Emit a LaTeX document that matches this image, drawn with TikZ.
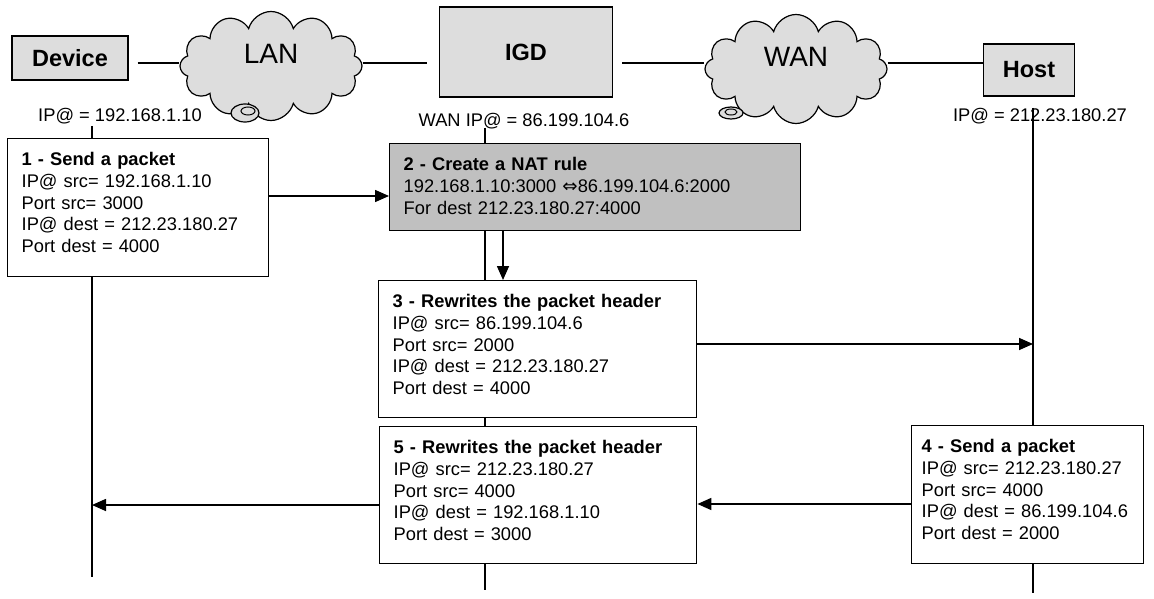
\documentclass[tikz,border=0pt]{standalone}
\usepackage{fontspec}
\setmainfont{Liberation Sans}
\newfontfamily\symfont{DejaVu Sans}
\usetikzlibrary{shapes.symbols,arrows.meta}
\definecolor{unitgray}{RGB}{221,221,221}
\definecolor{rulegray}{RGB}{192,192,192}
\tikzset{
  unit/.style={draw,fill=unitgray,line width=1.2pt,font=\bfseries\fontsize{23.5}{28}\selectfont},
  net/.style={cloud,cloud puffs=12,cloud ignores aspect,draw,fill=unitgray,line width=1.2pt,
    minimum width=182pt,minimum height=109pt,text height=20pt,text depth=24pt,
    font=\fontsize{28}{32}\selectfont},
  addr/.style={anchor=base,inner sep=0pt,font=\fontsize{18.3}{22}\selectfont},
  stepbox/.style={draw,fill=white,line width=1.4pt,anchor=north west,align=left,
    inner xsep=14pt,inner ysep=0pt,text height=27pt,font=\fontsize{18.3}{21.7}\selectfont},
  life/.style={line width=1.4pt},
  msg/.style={line width=1.6pt,-{Triangle[length=14pt,width=12pt]}}
}
\begin{document}
\begin{tikzpicture}[x=1pt,y=-1pt]
  \useasboundingbox (0,0) rectangle (1154,599);
  \coordinate (bus) at (0,63);
  \coordinate (devtop) at (92,126);
  \coordinate (devbot) at (92,577);
  \coordinate (igdtop) at (485,128);
  \coordinate (igdbot) at (485,590);
  \coordinate (hosttop) at (1033,108);
  \coordinate (hostbot) at (1033,593);
  \node[unit,minimum width=116pt,minimum height=44pt] (device) at (70,58) {Device};
  \node[unit,minimum width=173pt,minimum height=90pt] (igd) at (526,52) {IGD};
  \node[unit,minimum width=91pt,minimum height=52pt] (host) at (1029,70) {Host};
  \node[net] (lan) at (271,66) {LAN};
  \node[net] (wan) at (796,69) {WAN};
  \draw[line width=1.2pt,fill=unitgray] (245,113) ellipse (14pt and 9pt);
  \draw[line width=1pt] (248,111) ellipse (7pt and 4pt);
  \draw[line width=1.2pt,fill=unitgray] (731,113) ellipse (12pt and 6pt);
  \draw[line width=1pt] (731,112) ellipse (6pt and 3pt);
  \draw[life] (device.east |- bus) ++(9,0) -- (lan.west |- bus);
  \draw[life] (lan.east |- bus) -- ([xshift=-12pt]igd.west |- bus);
  \draw[life] ([xshift=9pt]igd.east |- bus) -- (wan.west |- bus);
  \draw[life] (wan.east |- bus) -- (host.west |- bus);
  \node[addr] (devip) at (120,122) {IP@ = 192.168.1.10};
  \node[addr] (igdip) at (524,127) {WAN IP@ = 86.199.104.6};
  \node[addr] (hostip) at (1040,122) {IP@ = 212.23.180.27};
  \draw[life] (devtop) -- (devbot);
  \draw[life] (igdtop) -- (igdbot);
  \draw[life] (hosttop) -- (hostbot);
  \node[stepbox,text width=233pt,text depth=111pt] (send1) at (7,138)
    {\textbf{1 - Send a packet}\\IP@ src= 192.168.1.10\\Port src= 3000\\IP@ dest = 212.23.180.27\\Port dest = 4000};
  \node[stepbox,fill=rulegray,text width=383pt,text depth=60pt] (natrule) at (389,143)
    {\textbf{2 - Create a NAT rule}\\192.168.1.10:3000 {\symfont ⇔}86.199.104.6:2000\\For dest 212.23.180.27:4000};
  \node[stepbox,text width=290pt,text depth=110pt] (rewrite3) at (378,280)
    {\textbf{3 - Rewrites the packet header}\\IP@ src= 86.199.104.6\\Port src= 2000\\IP@ dest = 212.23.180.27\\Port dest = 4000};
  \node[stepbox,inner xsep=10pt,text width=212pt,text depth=111pt] (send4) at (911,425)
    {\textbf{4 - Send a packet}\\IP@ src= 212.23.180.27\\Port src= 4000\\IP@ dest = 86.199.104.6\\Port dest = 2000};
  \node[stepbox,text width=289pt,text depth=110pt] (rewrite5) at (379,426)
    {\textbf{5 - Rewrites the packet header}\\IP@ src= 212.23.180.27\\Port src= 4000\\IP@ dest = 192.168.1.10\\Port dest = 3000};
  \draw[msg] (send1.east |- 0,196) -- (natrule.west |- 0,196);
  \draw[msg] (503,0 |- natrule.south) -- (503,0 |- rewrite3.north);
  \draw[msg] (rewrite3.east |- 0,344) -- (hosttop |- 0,344);
  \draw[msg] (send4.west |- 0,504) -- (rewrite5.east |- 0,504);
  \draw[msg] (rewrite5.west |- 0,505) -- (devtop |- 0,505);
\end{tikzpicture}
\end{document}
